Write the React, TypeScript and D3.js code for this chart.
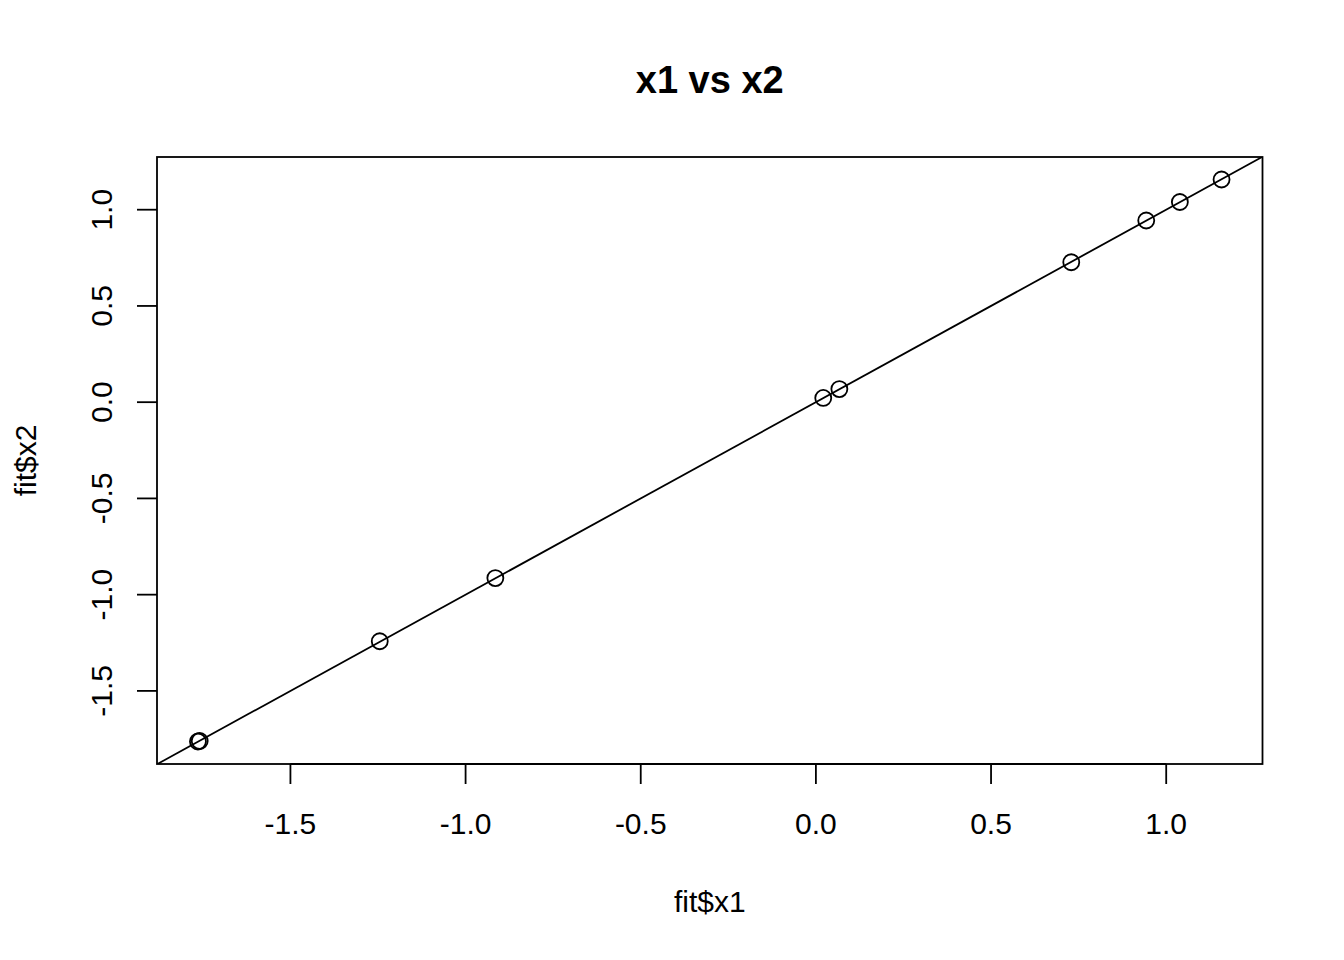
import React from "react";
import * as d3 from "d3";

const x1Values = [-1.764, -1.759, -1.245, -0.915, 0.021, 0.067, 0.729, 0.943, 1.039, 1.158];
const x2Values = [-1.763, -1.760, -1.242, -0.914, 0.022, 0.068, 0.727, 0.944, 1.040, 1.157];
const xTicks = [-1.5, -1.0, -0.5, 0.0, 0.5, 1.0];
const yTicks = [-1.5, -1.0, -0.5, 0.0, 0.5, 1.0];
const title = "x1 vs x2";
const xLabel = "fit$x1";
const yLabel = "fit$x2";

const W = 1344;
const H = 960;
const L = 157, R = 1262.5, T = 157, B = 764;
const FONT = "'Liberation Sans', Arial, Helvetica, sans-serif";

function padExtent(vals: number[]): [number, number] {
  const [lo, hi] = d3.extent(vals) as [number, number];
  const p = (hi - lo) * 0.04;
  return [lo - p, hi + p];
}

const fmt = (t: number) => t.toFixed(1);

export default function App() {
  const xDom = padExtent(x1Values);
  const yDom = padExtent(x2Values);
  const x = d3.scaleLinear().domain(xDom).range([L, R]);
  const y = d3.scaleLinear().domain(yDom).range([B, T]);
  const lineGen = d3.line<number>().x((d) => x(d)).y((d) => y(d));
  const lo = Math.min(xDom[0], yDom[0]);
  const hi = Math.max(xDom[1], yDom[1]);
  const sw = 1.8;

  return (
    <svg width={W} height={H} style={{ position: "absolute", left: 0, top: 0, background: "#fff" }} fontFamily={FONT}>
      <defs>
        <clipPath id="plotclip">
          <rect x={L} y={T} width={R - L} height={B - T} />
        </clipPath>
      </defs>
      <text x={(L + R) / 2} y={93} textAnchor="middle" fontSize={38} fontWeight="bold" fill="#000">
        {title}
      </text>
      <path d={lineGen([lo, hi]) || ""} stroke="#000" strokeWidth={sw} fill="none" clipPath="url(#plotclip)" />
      {x1Values.map((v, i) => (
        <circle key={i} cx={x(v)} cy={y(x2Values[i])} r={8} fill="none" stroke="#000" strokeWidth={sw} />
      ))}
      <rect x={L} y={T} width={R - L} height={B - T} fill="none" stroke="#000" strokeWidth={sw} />
      {/* x axis */}
      <line x1={x(xTicks[0])} x2={x(xTicks[xTicks.length - 1])} y1={B} y2={B} stroke="#000" strokeWidth={sw} />
      {xTicks.map((t) => (
        <g key={"x" + t}>
          <line x1={x(t)} x2={x(t)} y1={B} y2={B + 20} stroke="#000" strokeWidth={sw} />
          <text x={x(t)} y={834} textAnchor="middle" fontSize={30} fill="#000">
            {fmt(t)}
          </text>
        </g>
      ))}
      {/* y axis */}
      {yTicks.map((t) => (
        <g key={"y" + t}>
          <line x1={L - 20} x2={L} y1={y(t)} y2={y(t)} stroke="#000" strokeWidth={sw} />
          <text transform={`translate(112,${y(t)}) rotate(-90)`} textAnchor="middle" fontSize={30} fill="#000">
            {fmt(t)}
          </text>
        </g>
      ))}
      <text x={(L + R) / 2} y={912} textAnchor="middle" fontSize={30} fill="#000">
        {xLabel}
      </text>
      <text transform={`translate(36,${(T + B) / 2}) rotate(-90)`} textAnchor="middle" fontSize={30} fill="#000">
        {yLabel}
      </text>
    </svg>
  );
}
